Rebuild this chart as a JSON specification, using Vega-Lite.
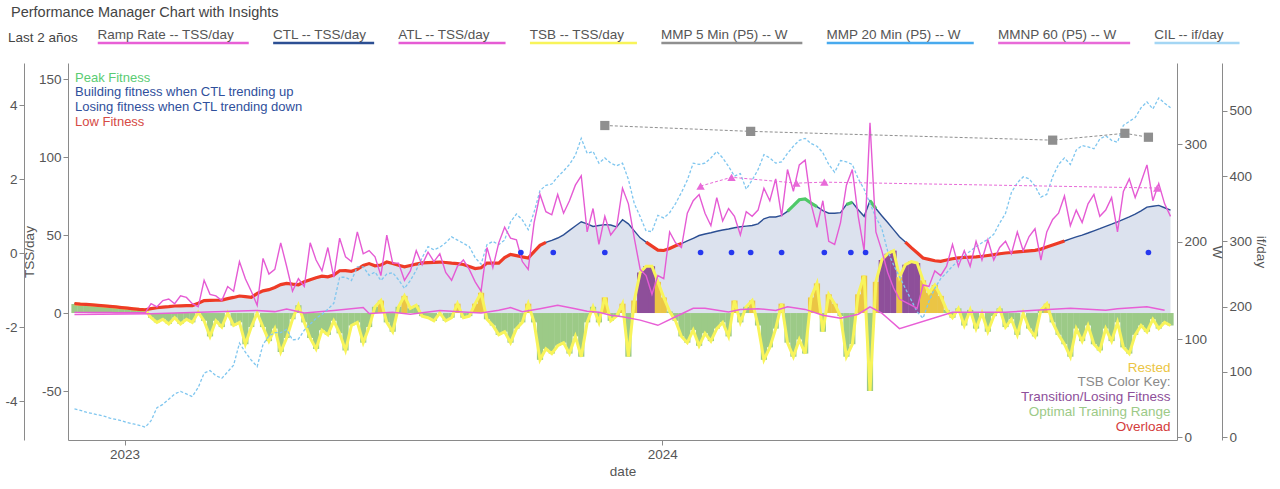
{
  "$schema": "https://vega.github.io/schema/vega-lite/v6.json",
  "width": 1109,
  "height": 377,
  "autosize": {"type": "none"},
  "padding": {"left": 68, "top": 63, "right": 103, "bottom": 49},
  "background": "white",
  "title": {"text": "Performance Manager Chart with Insights", "anchor": "start", "frame": "group", "dx": -57, "offset": 8, "fontSize": 14.5, "fontWeight": "normal", "color": "#444444", "font": "Liberation Sans"},
  "config": {
    "font": "Liberation Sans",
    "view": {"stroke": null},
    "axis": {"labelFontSize": 13.5, "labelColor": "#555555", "titleFontSize": 13.5, "titleFontWeight": "normal", "titleColor": "#555555", "domainColor": "#8a8a8a", "tickColor": "#8a8a8a", "tickSize": 5, "grid": false, "labelFont": "Liberation Sans", "titleFont": "Liberation Sans"},
    "legend": {"labelFont": "Liberation Sans", "titleFont": "Liberation Sans", "padding": 0}
  },
  "datasets": {
    "pmc": [
      {"d":"2022-11-28","c":6.0,"a":0.4,"t":5.8,"z":"o","i":43,"f":"l","g":"L1","r":-1.66},
      {"d":"2022-12-02","c":5.7,"a":0.4,"t":5.6,"z":"o","i":41,"f":"l","g":"L1"},
      {"d":"2022-12-06","c":5.5,"a":0.4,"t":5.4,"z":"o","i":38,"f":"l","g":"L1"},
      {"d":"2022-12-10","c":5.2,"a":0.3,"t":5.1,"z":"o","i":36,"f":"l","g":"L1"},
      {"d":"2022-12-14","c":4.9,"a":0.3,"t":4.8,"z":"o","i":34,"f":"l","g":"L1"},
      {"d":"2022-12-18","c":4.6,"a":0.3,"t":4.5,"z":"o","i":32,"f":"l","g":"L1"},
      {"d":"2022-12-22","c":4.3,"a":0.3,"t":4.2,"z":"o","i":29,"f":"l","g":"L1"},
      {"d":"2022-12-26","c":3.9,"a":0.2,"t":3.8,"z":"o","i":27,"f":"l","g":"L1"},
      {"d":"2022-12-30","c":3.5,"a":0.2,"t":3.4,"z":"o","i":25,"f":"l","g":"L1"},
      {"d":"2023-01-03","c":3.1,"a":0.2,"t":3.0,"z":"o","i":22,"f":"l","g":"L1"},
      {"d":"2023-01-07","c":2.7,"a":0.2,"t":2.6,"z":"o","i":20,"f":"l","g":"L1"},
      {"d":"2023-01-11","c":2.3,"a":0.2,"t":2.2,"z":"o","i":18,"f":"l","g":"L1"},
      {"d":"2023-01-15","c":2.1,"a":0.2,"t":2.0,"z":"o","i":15,"f":"l","g":"L1"},
      {"d":"2023-01-19","c":2.8,"a":6,"t":-3,"z":"o","i":25,"f":"l","g":"L1","r":-1.64},
      {"d":"2023-01-23","c":3.4,"a":4,"t":-6,"z":"o","i":45,"f":"l","g":"L1"},
      {"d":"2023-01-27","c":3.8,"a":8,"t":-4,"z":"o","i":50,"f":"l","g":"L1"},
      {"d":"2023-01-31","c":4.1,"a":9,"t":-7,"z":"o","i":58,"f":"l","g":"L1"},
      {"d":"2023-02-04","c":4.5,"a":6,"t":-3,"z":"o","i":66,"f":"l","g":"L1"},
      {"d":"2023-02-08","c":4.6,"a":11,"t":-7,"z":"o","i":70,"f":"l","g":"L1"},
      {"d":"2023-02-12","c":4.7,"a":10,"t":-4,"z":"o","i":66,"f":"l","g":"L1"},
      {"d":"2023-02-16","c":4.8,"a":6,"t":-6,"z":"o","i":62,"f":"l","g":"L1"},
      {"d":"2023-02-20","c":6.3,"a":4,"t":0.5,"z":"o","i":76,"f":"l","g":"L1"},
      {"d":"2023-02-24","c":8.0,"a":21,"t":-5,"z":"o","i":98,"f":"l","g":"L1"},
      {"d":"2023-02-28","c":8.1,"a":12,"t":-15,"z":"o","i":102,"f":"l","g":"L1"},
      {"d":"2023-03-04","c":8.2,"a":11,"t":-5,"z":"o","i":94,"f":"l","g":"L1"},
      {"d":"2023-03-08","c":8.3,"a":8,"t":-9,"z":"o","i":90,"f":"l","g":"L1"},
      {"d":"2023-03-12","c":9.2,"a":17,"t":0,"z":"o","i":100,"f":"l","g":"L1"},
      {"d":"2023-03-16","c":10.0,"a":14,"t":-8,"z":"o","i":110,"f":"l","g":"L1"},
      {"d":"2023-03-20","c":10.9,"a":33,"t":-6,"z":"o","i":144,"f":"l","g":"L1"},
      {"d":"2023-03-24","c":10.5,"a":22,"t":-20,"z":"o","i":130,"f":"l","g":"L1"},
      {"d":"2023-03-28","c":10.1,"a":14,"t":-9,"z":"o","i":118,"f":"l","g":"L1"},
      {"d":"2023-04-01","c":12.5,"a":5,"t":0,"z":"o","i":108,"f":"l","g":"L1","r":-1.55},
      {"d":"2023-04-05","c":14.2,"a":35,"t":-9,"z":"o","i":142,"f":"l","g":"L1"},
      {"d":"2023-04-09","c":15.0,"a":25,"t":-18,"z":"o","i":155,"f":"l","g":"L1"},
      {"d":"2023-04-13","c":16.4,"a":28,"t":-10,"z":"o","i":160,"f":"l","g":"L1","r":-1.58},
      {"d":"2023-04-17","c":18.2,"a":45,"t":-25,"z":"o","i":160,"f":"l","g":"L1"},
      {"d":"2023-04-21","c":19.0,"a":30,"t":-16,"z":"o","i":165,"f":"l","g":"L1","r":-1.51},
      {"d":"2023-04-25","c":18.5,"a":14,"t":-4,"z":"o","i":149,"f":"l","g":"L1"},
      {"d":"2023-04-29","c":18.1,"a":22,"t":5,"z":"o","i":150,"f":"l","g":"L1"},
      {"d":"2023-05-03","c":20.0,"a":17,"t":-6,"z":"o","i":164,"f":"l","g":"L1","r":-1.62},
      {"d":"2023-05-07","c":21.4,"a":45,"t":-16,"z":"o","i":173,"f":"l","g":"L1"},
      {"d":"2023-05-11","c":22.6,"a":34,"t":-23,"z":"o","i":182,"f":"l","g":"L1"},
      {"d":"2023-05-15","c":23.6,"a":27,"t":-11,"z":"o","i":188,"f":"l","g":"L1"},
      {"d":"2023-05-19","c":23.2,"a":42,"t":-14,"z":"o","i":196,"f":"l","g":"L1"},
      {"d":"2023-05-23","c":24.3,"a":23,"t":-5,"z":"o","i":205,"f":"l","g":"L1","r":-1.55},
      {"d":"2023-05-27","c":27.1,"a":48,"t":-13,"z":"o","i":245,"f":"l","g":"L1"},
      {"d":"2023-05-31","c":27.2,"a":36,"t":-24,"z":"o","i":245,"f":"l","g":"L1"},
      {"d":"2023-06-04","c":26.7,"a":33,"t":-8,"z":"o","i":240,"f":"l","g":"L1"},
      {"d":"2023-06-08","c":28.0,"a":52,"t":-6,"z":"o","i":261,"f":"l","g":"L1"},
      {"d":"2023-06-12","c":30.5,"a":38,"t":-19,"z":"o","i":261,"f":"l","g":"L1","r":-1.47},
      {"d":"2023-06-16","c":31.7,"a":40,"t":-9,"z":"o","i":248,"f":"l","g":"L1","r":-1.63},
      {"d":"2023-06-20","c":30.3,"a":36,"t":4,"z":"o","i":253,"f":"l","g":"L1"},
      {"d":"2023-06-24","c":30.8,"a":24,"t":8,"z":"r","i":240,"f":"l","g":"L1"},
      {"d":"2023-06-28","c":32.7,"a":50,"t":-6,"z":"o","i":250,"f":"l","g":"L1"},
      {"d":"2023-07-02","c":31.8,"a":32,"t":-12,"z":"o","i":252,"f":"l","g":"L1","r":-1.60},
      {"d":"2023-07-06","c":30.6,"a":32,"t":4,"z":"o","i":241,"f":"l","g":"L1"},
      {"d":"2023-07-10","c":29.6,"a":21,"t":11,"z":"r","i":228,"f":"l","g":"L1"},
      {"d":"2023-07-14","c":30.5,"a":27,"t":3,"z":"o","i":240,"f":"l","g":"L1","r":-1.65},
      {"d":"2023-07-18","c":31.4,"a":40,"t":5,"z":"o","i":256,"f":"l","g":"L1"},
      {"d":"2023-07-22","c":32.1,"a":31,"t":-2,"z":"o","i":275,"f":"l","g":"L1"},
      {"d":"2023-07-26","c":32.3,"a":39,"t":-3,"z":"o","i":292,"f":"l","g":"L1"},
      {"d":"2023-07-30","c":32.5,"a":33,"t":-5,"z":"o","i":287,"f":"l","g":"L1"},
      {"d":"2023-08-03","c":32.7,"a":38,"t":0,"z":"o","i":291,"f":"l","g":"L1","r":-1.55},
      {"d":"2023-08-07","c":32.4,"a":26,"t":-5,"z":"o","i":298,"f":"l","g":"L1"},
      {"d":"2023-08-11","c":32.0,"a":21,"t":-3,"z":"o","i":307,"f":"l","g":"L1"},
      {"d":"2023-08-15","c":31.7,"a":30,"t":6,"z":"r","i":302,"f":"l","g":"L1"},
      {"d":"2023-08-19","c":31.1,"a":34,"t":-3,"z":"o","i":297,"f":"l","g":"L1","r":-1.59},
      {"d":"2023-08-23","c":29.8,"a":28,"t":-2,"z":"o","i":292,"f":"l","g":"L1"},
      {"d":"2023-08-27","c":28.5,"a":20,"t":6,"z":"r","i":275,"f":"l","g":"L1"},
      {"d":"2023-08-31","c":29.0,"a":14,"t":13,"z":"r","i":265,"f":"l","g":"L1","r":-1.62},
      {"d":"2023-09-04","c":32.0,"a":42,"t":-4,"z":"o","i":295,"f":"l","g":"L1"},
      {"d":"2023-09-08","c":32.0,"a":29,"t":-8,"z":"o","i":300,"f":"l","g":"L1"},
      {"d":"2023-09-12","c":32.0,"a":45,"t":-14,"z":"o","i":295,"f":"l","g":"L1","r":-1.54},
      {"d":"2023-09-16","c":35.5,"a":55,"t":-12,"z":"o","i":302,"f":"l","g":"L1"},
      {"d":"2023-09-20","c":37.6,"a":48,"t":-19,"z":"o","i":330,"f":"l","g":"L1","r":-1.47},
      {"d":"2023-09-24","c":36.8,"a":47,"t":-10,"z":"o","i":342,"f":"l","g":"L1"},
      {"d":"2023-09-28","c":36.0,"a":33,"t":-6,"z":"o","i":333,"f":"l","g":"L1","r":-1.58},
      {"d":"2023-10-02","c":35.3,"a":28,"t":6,"z":"r","i":318,"f":"l","g":"L1"},
      {"d":"2023-10-06","c":39.4,"a":58,"t":-6,"z":"o","i":345,"f":"l","g":"L1"},
      {"d":"2023-10-10","c":43.4,"a":76,"t":-30,"z":"o","i":378,"f":"l","g":"L1","r":-1.50},
      {"d":"2023-10-14","c":45.3,"a":65,"t":-23,"z":"o","i":386,"f":"l","g":"L1"},
      {"d":"2023-10-18","c":46.6,"a":63,"t":-26,"z":"o","i":388},
      {"d":"2023-10-22","c":48.1,"a":76,"t":-21,"z":"o","i":399,"r":-1.41},
      {"d":"2023-10-26","c":50.1,"a":64,"t":-19,"z":"o","i":408},
      {"d":"2023-10-30","c":53.0,"a":72,"t":-26,"z":"o","i":418},
      {"d":"2023-11-03","c":55.8,"a":82,"t":-15,"z":"o","i":432,"r":-1.50},
      {"d":"2023-11-07","c":58.5,"a":88,"t":-28,"z":"o","i":458},
      {"d":"2023-11-11","c":57.2,"a":52,"t":-6,"z":"o","i":435,"r":-1.57},
      {"d":"2023-11-15","c":55.5,"a":67,"t":4,"z":"o","i":438},
      {"d":"2023-11-19","c":56.1,"a":44,"t":-6,"z":"o","i":420,"r":-1.60},
      {"d":"2023-11-23","c":56.7,"a":62,"t":10,"z":"r","i":428},
      {"d":"2023-11-27","c":56.4,"a":50,"t":-5,"z":"o","i":420,"r":-1.68},
      {"d":"2023-12-01","c":55.2,"a":55,"t":-2,"z":"o","i":416},
      {"d":"2023-12-05","c":59.8,"a":80,"t":6,"z":"r","i":420,"r":-1.72},
      {"d":"2023-12-09","c":57.2,"a":70,"t":-28,"z":"o","i":395},
      {"d":"2023-12-13","c":52.7,"a":48,"t":8,"z":"r","i":358},
      {"d":"2023-12-17","c":48.2,"a":28,"t":26,"z":"t","i":338,"r":-1.81},
      {"d":"2023-12-21","c":45.5,"a":24,"t":30,"z":"t","i":316,"f":"l","g":"L2"},
      {"d":"2023-12-25","c":42.9,"a":12,"t":30,"z":"t","i":315,"f":"l","g":"L2"},
      {"d":"2023-12-29","c":40.3,"a":24,"t":20,"z":"r","i":340,"f":"l","g":"L2","r":-1.95},
      {"d":"2024-01-02","c":40.1,"a":22,"t":10,"z":"r","i":336,"f":"l","g":"L2"},
      {"d":"2024-01-06","c":41.4,"a":52,"t":1,"z":"o","i":344,"f":"l","g":"L2"},
      {"d":"2024-01-10","c":43.1,"a":45,"t":-5,"z":"o","i":358,"f":"l","g":"L2","r":-1.72},
      {"d":"2024-01-14","c":44.5,"a":42,"t":-15,"z":"o","i":375,"f":"l","g":"L2"},
      {"d":"2024-01-18","c":46.2,"a":64,"t":-19,"z":"o","i":394},
      {"d":"2024-01-22","c":47.9,"a":72,"t":-11,"z":"o","i":420,"r":-1.49},
      {"d":"2024-01-26","c":49.7,"a":76,"t":-21,"z":"o","i":418},
      {"d":"2024-01-30","c":50.7,"a":64,"t":-13,"z":"o","i":420,"r":-1.49},
      {"d":"2024-02-03","c":51.5,"a":56,"t":-18,"z":"o","i":428},
      {"d":"2024-02-07","c":52.4,"a":74,"t":-10,"z":"o","i":438},
      {"d":"2024-02-11","c":53.2,"a":59,"t":-6,"z":"o","i":428},
      {"d":"2024-02-15","c":53.9,"a":67,"t":-15,"z":"o","i":415,"r":-1.59},
      {"d":"2024-02-19","c":54.7,"a":62,"t":8,"z":"r","i":400},
      {"d":"2024-02-23","c":55.3,"a":50,"t":-6,"z":"o","i":404,"r":-1.52},
      {"d":"2024-02-27","c":55.7,"a":65,"t":4,"z":"o","i":380},
      {"d":"2024-03-02","c":56.1,"a":62,"t":8,"z":"r","i":394},
      {"d":"2024-03-06","c":57.2,"a":66,"t":-8,"z":"o","i":410,"r":-1.50},
      {"d":"2024-03-10","c":60.4,"a":80,"t":-30,"z":"o","i":433},
      {"d":"2024-03-14","c":61.6,"a":72,"t":-22,"z":"o","i":428},
      {"d":"2024-03-18","c":61.6,"a":86,"t":-10,"z":"o","i":420,"r":-1.55},
      {"d":"2024-03-22","c":62.6,"a":62,"t":6,"z":"r","i":422},
      {"d":"2024-03-26","c":65.2,"a":92,"t":-19,"z":"o","i":435,"f":"p","g":"P1","r":-1.45},
      {"d":"2024-03-30","c":68.8,"a":78,"t":-28,"z":"o","i":446,"f":"p","g":"P1"},
      {"d":"2024-04-03","c":72.6,"a":95,"t":-17,"z":"o","i":455,"f":"p","g":"P1"},
      {"d":"2024-04-07","c":73.2,"a":98,"t":-26,"z":"o","i":458,"f":"p","g":"P1","r":-1.52},
      {"d":"2024-04-11","c":70.5,"a":70,"t":10,"z":"r","i":450,"f":"p","g":"P1"},
      {"d":"2024-04-15","c":68.2,"a":55,"t":19,"z":"r","i":446,"f":"p","g":"P1"},
      {"d":"2024-04-19","c":65.7,"a":72,"t":-12,"z":"o","i":436,"r":-1.68},
      {"d":"2024-04-23","c":64.0,"a":46,"t":12,"z":"r","i":418},
      {"d":"2024-04-27","c":64.0,"a":44,"t":6,"z":"r","i":406},
      {"d":"2024-05-01","c":64.4,"a":58,"t":-2,"z":"o","i":424,"r":-1.76},
      {"d":"2024-05-05","c":69.6,"a":82,"t":-28,"z":"o","i":422,"f":"p","g":"P2"},
      {"d":"2024-05-09","c":71.0,"a":92,"t":-20,"z":"o","i":418,"f":"p","g":"P2"},
      {"d":"2024-05-13","c":66.2,"a":62,"t":12,"z":"r","i":396,"r":-1.65},
      {"d":"2024-05-17","c":62.0,"a":40,"t":24,"z":"r","i":380},
      {"d":"2024-05-21","c":72.0,"a":122,"t":-50,"z":"o","i":358,"f":"p","g":"P3","r":-1.45},
      {"d":"2024-05-25","c":67.0,"a":52,"t":20,"z":"r","i":337,"f":"p","g":"P3"},
      {"d":"2024-05-29","c":62.4,"a":40,"t":34,"z":"t","i":320,"r":-1.62},
      {"d":"2024-06-02","c":58.0,"a":26,"t":38,"z":"t","i":285,"r":-1.76},
      {"d":"2024-06-06","c":53.5,"a":16,"t":40,"z":"t","i":264},
      {"d":"2024-06-10","c":48.9,"a":9,"t":23,"z":"r","i":246,"r":-2.04},
      {"d":"2024-06-14","c":45.5,"a":7,"t":31,"z":"t","i":228,"f":"l","g":"L3"},
      {"d":"2024-06-18","c":41.9,"a":5,"t":33,"z":"t","i":210,"f":"l","g":"L3"},
      {"d":"2024-06-22","c":38.6,"a":3,"t":32,"z":"t","i":192,"f":"l","g":"L3"},
      {"d":"2024-06-26","c":35.3,"a":18,"t":21,"z":"r","i":182,"f":"l","g":"L3"},
      {"d":"2024-06-30","c":34.4,"a":17,"t":13,"z":"r","i":208,"f":"l","g":"L3"},
      {"d":"2024-07-04","c":33.5,"a":27,"t":18,"z":"r","i":228,"f":"l","g":"L3"},
      {"d":"2024-07-08","c":33.1,"a":24,"t":11,"z":"r","i":243,"f":"l","g":"L3"},
      {"d":"2024-07-12","c":34.0,"a":30,"t":2,"z":"o","i":252,"f":"l","g":"L3"},
      {"d":"2024-07-16","c":34.8,"a":44,"t":-3,"z":"o","i":262,"f":"l","g":"L3","r":-1.60},
      {"d":"2024-07-20","c":35.4,"a":30,"t":3,"z":"o","i":270,"f":"l","g":"L3"},
      {"d":"2024-07-24","c":35.6,"a":40,"t":-8,"z":"o","i":278,"f":"l","g":"L3"},
      {"d":"2024-07-28","c":35.8,"a":30,"t":2,"z":"o","i":285,"f":"l","g":"L3"},
      {"d":"2024-08-01","c":36.0,"a":46,"t":-10,"z":"o","i":292,"f":"l","g":"L3"},
      {"d":"2024-08-05","c":36.4,"a":34,"t":0,"z":"o","i":298,"f":"l","g":"L3"},
      {"d":"2024-08-09","c":36.9,"a":47,"t":-12,"z":"o","i":303,"f":"l","g":"L3"},
      {"d":"2024-08-13","c":37.4,"a":34,"t":-2,"z":"o","i":311,"f":"l","g":"L3"},
      {"d":"2024-08-17","c":38.0,"a":42,"t":3,"z":"o","i":328,"f":"l","g":"L3"},
      {"d":"2024-08-21","c":38.5,"a":46,"t":-9,"z":"o","i":343,"f":"l","g":"L3","r":-1.60},
      {"d":"2024-08-25","c":38.8,"a":38,"t":-4,"z":"o","i":375,"f":"l","g":"L3"},
      {"d":"2024-08-29","c":39.2,"a":52,"t":-14,"z":"o","i":390,"f":"l","g":"L3"},
      {"d":"2024-09-02","c":39.5,"a":40,"t":0,"z":"o","i":399,"f":"l","g":"L3"},
      {"d":"2024-09-06","c":39.9,"a":49,"t":-10,"z":"o","i":396,"f":"l","g":"L3"},
      {"d":"2024-09-10","c":40.2,"a":54,"t":-15,"z":"o","i":385,"f":"l","g":"L3","r":-1.54},
      {"d":"2024-09-14","c":41.0,"a":34,"t":2,"z":"o","i":368,"f":"l","g":"L3"},
      {"d":"2024-09-18","c":42.3,"a":52,"t":6,"z":"r","i":372,"f":"l","g":"L3"},
      {"d":"2024-09-22","c":43.6,"a":60,"t":-6,"z":"o","i":399,"f":"l","g":"L3"},
      {"d":"2024-09-26","c":44.9,"a":64,"t":-14,"z":"o","i":418,"f":"l","g":"L3"},
      {"d":"2024-09-30","c":46.2,"a":75,"t":-20,"z":"o","i":428,"f":"l","g":"L3"},
      {"d":"2024-10-04","c":47.5,"a":56,"t":-28,"z":"o","i":418,"r":-1.49},
      {"d":"2024-10-08","c":48.8,"a":66,"t":-10,"z":"o","i":440},
      {"d":"2024-10-12","c":50.0,"a":58,"t":-18,"z":"o","i":447},
      {"d":"2024-10-16","c":51.3,"a":70,"t":-8,"z":"o","i":445},
      {"d":"2024-10-20","c":52.7,"a":76,"t":-20,"z":"o","i":442},
      {"d":"2024-10-24","c":54.1,"a":62,"t":-24,"z":"o","i":457},
      {"d":"2024-10-28","c":55.6,"a":66,"t":-10,"z":"o","i":462,"r":-1.54},
      {"d":"2024-11-01","c":57.0,"a":74,"t":-18,"z":"o","i":455},
      {"d":"2024-11-05","c":58.5,"a":52,"t":-6,"z":"o","i":452,"r":-1.50},
      {"d":"2024-11-09","c":60.1,"a":78,"t":-22,"z":"o","i":478},
      {"d":"2024-11-13","c":61.7,"a":86,"t":-26,"z":"o","i":484},
      {"d":"2024-11-17","c":63.4,"a":74,"t":-14,"z":"o","i":490},
      {"d":"2024-11-21","c":65.5,"a":84,"t":-8,"z":"o","i":505},
      {"d":"2024-11-25","c":67.9,"a":95,"t":-12,"z":"o","i":514,"r":-1.45},
      {"d":"2024-11-29","c":68.5,"a":72,"t":-4,"z":"o","i":503},
      {"d":"2024-12-03","c":69.0,"a":83,"t":-10,"z":"o","i":520},
      {"d":"2024-12-07","c":67.5,"a":70,"t":-6,"z":"o","i":512,"r":-1.54},
      {"d":"2024-12-11","c":66.0,"a":62,"t":-8,"z":"o","i":505}
    ],
    "mmp5": [
      {"d":"2023-11-23","w":319},
      {"d":"2024-03-01","w":313},
      {"d":"2024-09-22","w":304},
      {"d":"2024-11-10","w":311},
      {"d":"2024-11-26","w":307}
    ],
    "mmnp60": [
      {"d":"2024-01-27","w":257},
      {"d":"2024-02-17","w":266},
      {"d":"2024-04-01","w":260},
      {"d":"2024-04-20","w":261},
      {"d":"2024-12-02","w":255}
    ],
    "mmp20": [
      {"d":"2023-09-27","w":189},
      {"d":"2023-10-19","w":189},
      {"d":"2023-11-23","w":189},
      {"d":"2024-01-27","w":189},
      {"d":"2024-02-17","w":189},
      {"d":"2024-03-01","w":189},
      {"d":"2024-03-22","w":189},
      {"d":"2024-04-20","w":189},
      {"d":"2024-05-08","w":189},
      {"d":"2024-05-18","w":189},
      {"d":"2024-11-26","w":189}
    ]
  },
  "data": {"name": "pmc"},
  "encoding": {
    "x": {
      "field": "d", "type": "temporal",
      "scale": {"type": "utc", "domain": [{"year": 2022, "month": 11, "date": 27, "utc": true}, {"year": 2024, "month": 12, "date": 12, "utc": true}]},
      "axis": {"values": [{"year": 2023, "month": 1, "date": 1, "utc": true}, {"year": 2024, "month": 1, "date": 1, "utc": true}], "format": "%Y", "title": "date", "labelPadding": 2, "titlePadding": 4}
    }
  },
  "layer": [
    {
      "mark": {"type": "area", "color": "#dce2ee"},
      "encoding": {
        "y": {"field": "c", "type": "quantitative", "scale": {"domain": [-81.4, 160.3], "nice": false, "zero": false},
              "axis": {"orient": "left", "values": [-50, 0, 50, 100, 150], "title": "TSS/day", "titlePadding": 2, "labelExpr": "'' + datum.value"}},
        "y2": {"datum": 0}
      }
    },
    {
      "mark": {"type": "bar", "size": 6.2},
      "encoding": {
        "y": {"field": "t", "type": "quantitative", "scale": {"domain": [-81.4, 160.3], "nice": false, "zero": false}, "axis": null},
        "y2": {"datum": 0},
        "fill": {
          "field": "z", "type": "nominal", "title": null,
          "scale": {"domain": ["r", "k", "t", "o", "x"], "range": ["#ebc545", "#8a8a8a", "#8e4f9a", "#9cca87", "#d43c3c"]},
          "legend": {
            "orient": "none", "legendX": 929, "legendY": 298, "title": null, "direction": "vertical",
            "symbolOpacity": 0, "symbolSize": 0, "symbolStrokeWidth": 0,
            "labelOffset": 160, "labelAlign": "right", "labelFontSize": 13.5, "labelLimit": 400, "rowPadding": -0.3,
            "labelExpr": "datum.value == 'r' ? 'Rested' : datum.value == 'k' ? 'TSB Color Key:' : datum.value == 't' ? 'Transition/Losing Fitness' : datum.value == 'o' ? 'Optimal Training Range' : 'Overload'",
            "encode": {"labels": {"update": {"fill": {"scale": "fill", "field": "value"}}}}
          }
        }
      }
    },
    {
      "mark": {"type": "line", "strokeWidth": 3},
      "encoding": {
        "y": {"field": "t", "type": "quantitative", "scale": {"domain": [-81.4, 160.3], "nice": false, "zero": false}, "axis": null},
        "color": {
          "datum": "TSB  -- TSS/day",
          "scale": {
            "domain": ["Ramp Rate  -- TSS/day", "CTL  -- TSS/day", "ATL  -- TSS/day", "TSB  -- TSS/day", "MMP 5 Min (P5)  -- W", "MMP 20 Min (P5)  -- W", "MMNP 60 (P5)  -- W", "CIL  -- if/day"],
            "range": ["#e85fd6", "#2c4f93", "#e55bd4", "#f8f45a", "#8f8f8f", "#48aaee", "#e86ad8", "#a4d6f4"]
          },
          "legend": {
            "orient": "none", "legendX": -60, "legendY": -35, "direction": "horizontal",
            "title": "Last 2 años", "titleOrient": "left", "titleFontSize": 13.5, "titleFontWeight": "normal", "titleColor": "#444444", "titlePadding": 5,
            "labelFontSize": 13.5, "labelColor": "#555555", "labelOffset": 1, "labelLimit": 400, "columnPadding": 4.4,
            "symbolSize": 4, "symbolStrokeWidth": 2.5,
            "encode": {
              "symbols": {
                "update": {
                  "shape": {"signal": "'M 8 8 L ' + (8 + [151, 101, 107, 107, 141, 147, 132, 85][datum.index]) + ' 8'"},
                  "fill": {"value": "transparent"},
                  "stroke": {"scale": "color", "field": "value"},
                  "strokeWidth": {"value": 2.5},
                  "opacity": {"value": 1}
                }
              }
            }
          }
        }
      }
    },
    {
      "transform": [{"filter": "isValid(datum.r)"}],
      "mark": {"type": "line", "strokeWidth": 1.5},
      "encoding": {
        "y": {"field": "r", "type": "quantitative", "scale": {"domain": [-5.05, 5.14], "nice": false, "zero": false},
              "axis": {"orient": "left", "offset": 44, "values": [-4, -2, 0, 2, 4], "title": null, "labelExpr": "'' + datum.value"}},
        "color": {"datum": "Ramp Rate  -- TSS/day"}
      }
    },
    {
      "mark": {"type": "line", "strokeWidth": 1.4},
      "encoding": {
        "y": {"field": "c", "type": "quantitative", "scale": {"domain": [-81.4, 160.3], "nice": false, "zero": false}, "axis": null},
        "stroke": {
          "datum": "b", "title": null,
          "scale": {"domain": ["p", "b", "d", "l"], "range": ["#4fc968", "#2c4f93", "#2c4f93", "#ee3b26"]},
          "legend": {
            "orient": "none", "legendX": -6, "legendY": 8, "title": null, "direction": "vertical",
            "symbolOpacity": 0, "symbolSize": 0, "symbolStrokeWidth": 0,
            "labelOffset": 0, "labelFontSize": 13, "labelLimit": 400, "rowPadding": 0.7,
            "labelExpr": "datum.value == 'p' ? 'Peak Fitness' : datum.value == 'b' ? 'Building fitness when CTL trending up' : datum.value == 'd' ? 'Losing fitness when CTL trending down' : 'Low Fitness'",
            "encode": {"labels": {"update": {"fill": {"signal": "datum.value == 'p' ? '#5acc73' : datum.value == 'l' ? '#d64a45' : '#2f4f9c'"}}}}
          }
        }
      }
    },
    {
      "transform": [{"filter": "isValid(datum.f)"}],
      "mark": {"type": "line", "strokeWidth": 3.2},
      "encoding": {
        "y": {"field": "c", "type": "quantitative", "scale": {"domain": [-81.4, 160.3], "nice": false, "zero": false}, "axis": null},
        "stroke": {"field": "f", "type": "nominal", "title": null},
        "detail": {"field": "g", "type": "nominal"}
      }
    },
    {
      "mark": {"type": "line", "color": "#7fc6ef", "strokeWidth": 1.3, "strokeDash": [3, 2]},
      "encoding": {
        "y": {"field": "i", "type": "quantitative", "scale": {"domain": [-4.6, 573.6], "nice": false, "zero": false},
              "axis": {"orient": "right", "offset": 45, "values": [0, 100, 200, 300, 400, 500], "title": "if/day", "titlePadding": 2}}
      }
    },
    {
      "mark": {"type": "line", "strokeWidth": 1.4},
      "encoding": {
        "y": {"field": "a", "type": "quantitative", "scale": {"domain": [-81.4, 160.3], "nice": false, "zero": false}, "axis": null},
        "color": {"datum": "ATL  -- TSS/day"}
      }
    },
    {
      "data": {"name": "mmp5"},
      "mark": {"type": "line", "strokeWidth": 1, "strokeDash": [3, 2]},
      "encoding": {
        "y": {"field": "w", "type": "quantitative", "scale": {"domain": [-3, 383], "nice": false, "zero": false},
              "axis": {"orient": "right", "values": [0, 100, 200, 300], "title": "W", "titlePadding": 3}},
        "color": {"datum": "MMP 5 Min (P5)  -- W"}
      }
    },
    {
      "data": {"name": "mmp5"},
      "mark": {"type": "point", "shape": "square", "filled": true, "size": 85, "opacity": 1},
      "encoding": {
        "y": {"field": "w", "type": "quantitative", "scale": {"domain": [-3, 383], "nice": false, "zero": false}, "axis": null},
        "color": {"datum": "MMP 5 Min (P5)  -- W"}
      }
    },
    {
      "data": {"name": "mmnp60"},
      "mark": {"type": "line", "strokeWidth": 1, "strokeDash": [3, 2]},
      "encoding": {
        "y": {"field": "w", "type": "quantitative", "scale": {"domain": [-3, 383], "nice": false, "zero": false}, "axis": null},
        "color": {"datum": "MMNP 60 (P5)  -- W"}
      }
    },
    {
      "data": {"name": "mmnp60"},
      "mark": {"type": "point", "shape": "triangle-up", "filled": true, "size": 70, "opacity": 1},
      "encoding": {
        "y": {"field": "w", "type": "quantitative", "scale": {"domain": [-3, 383], "nice": false, "zero": false}, "axis": null},
        "color": {"datum": "MMNP 60 (P5)  -- W"}
      }
    },
    {
      "data": {"name": "mmp20"},
      "mark": {"type": "point", "shape": "circle", "filled": true, "size": 32, "opacity": 1, "color": "#2638ef"},
      "encoding": {
        "y": {"field": "w", "type": "quantitative", "scale": {"domain": [-3, 383], "nice": false, "zero": false}, "axis": null}
      }
    }
  ],
  "resolve": {"scale": {"y": "independent"}}
}
